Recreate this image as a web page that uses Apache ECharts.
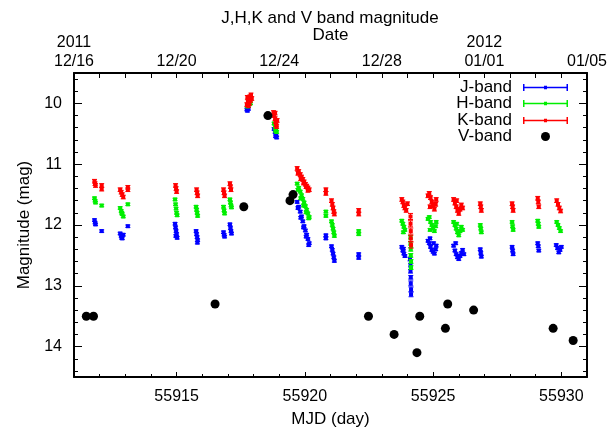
<!DOCTYPE html>
<html>
<head>
<meta charset="utf-8">
<script src="https://cdn.jsdelivr.net/npm/echarts@6/dist/echarts.min.js"></script>
<style>
  html, body { margin: 0; padding: 0; background: #fff; }
  #chart { width: 609px; height: 431px; }
</style>
</head>
<body>
<div id="chart"></div>
<script>
// [MJD, magnitude, error]
var jBand = [
  [55911.80,11.92,0.02],[55911.82,11.96,0.02],[55911.84,11.99,0.02],
  [55912.08,12.10,0.02],
  [55912.80,12.14,0.02],[55912.84,12.18,0.02],[55912.88,12.22,0.02],[55912.92,12.16,0.02],[55912.86,12.21,0.02],
  [55913.10,12.02,0.02],
  [55914.94,11.98,0.02],[55914.96,12.04,0.02],[55914.98,12.10,0.02],[55915.00,12.15,0.02],[55915.02,12.21,0.02],[55914.97,12.18,0.02],
  [55915.76,12.10,0.02],[55915.78,12.15,0.02],[55915.80,12.20,0.02],[55915.82,12.25,0.02],[55915.81,12.29,0.02],
  [55916.83,12.12,0.02],[55916.85,12.16,0.02],[55916.87,12.19,0.02],
  [55917.08,11.99,0.02],[55917.10,12.05,0.02],[55917.12,12.10,0.02],[55917.14,12.14,0.02],
  [55917.76,10.12,0.02],[55917.80,10.09,0.02],[55917.74,10.10,0.02],
  [55918.80,10.42,0.02],[55918.84,10.47,0.02],[55918.88,10.52,0.02],[55918.90,10.56,0.02],[55918.86,10.54,0.02],
  [55919.70,11.62,0.02],[55919.76,11.70,0.02],[55919.82,11.78,0.02],[55919.87,11.86,0.02],[55919.92,11.94,0.02],
  [55919.97,12.02,0.02],[55920.02,12.09,0.02],[55920.07,12.16,0.02],[55920.12,12.23,0.02],[55920.17,12.30,0.02],
  [55919.73,11.72,0.02],[55919.84,11.88,0.02],[55919.95,12.04,0.02],[55920.05,12.19,0.02],[55920.15,12.33,0.02],
  [55920.82,12.17,0.02],[55920.82,12.22,0.02],
  [55921.04,12.35,0.02],[55921.07,12.41,0.02],[55921.10,12.47,0.02],[55921.13,12.53,0.02],[55921.15,12.59,0.02],
  [55922.10,12.48,0.02],[55922.10,12.54,0.02],
  [55923.78,12.36,0.02],[55923.82,12.42,0.02],[55923.86,12.47,0.02],[55923.90,12.51,0.02],[55923.84,12.39,0.02],
  [55924.10,12.56,0.03],[55924.12,12.66,0.03],[55924.12,12.76,0.03],[55924.13,12.86,0.03],[55924.13,12.96,0.04],
  [55924.14,13.06,0.04],[55924.14,13.14,0.04],
  [55924.80,12.26,0.02],[55924.85,12.30,0.02],[55924.90,12.36,0.02],[55924.95,12.41,0.02],[55925.00,12.44,0.02],
  [55925.05,12.47,0.02],[55925.10,12.40,0.02],[55924.88,12.22,0.02],[55925.02,12.30,0.02],[55925.12,12.34,0.02],
  [55925.80,12.34,0.02],[55925.85,12.42,0.02],[55925.90,12.48,0.02],[55925.95,12.53,0.02],[55926.00,12.56,0.02],
  [55926.05,12.51,0.02],[55926.10,12.46,0.02],[55925.88,12.30,0.02],[55926.15,12.41,0.02],[55926.20,12.48,0.02],
  [55926.84,12.40,0.02],[55926.86,12.46,0.02],[55926.88,12.52,0.02],
  [55928.08,12.36,0.02],[55928.10,12.42,0.02],[55928.12,12.48,0.02],
  [55929.08,12.30,0.02],[55929.10,12.35,0.02],[55929.12,12.42,0.02],
  [55929.80,12.33,0.02],[55929.85,12.38,0.02],[55929.90,12.45,0.02],[55929.95,12.41,0.02],[55930.00,12.36,0.02]
];

var hBand = [
  [55911.80,11.56,0.02],[55911.82,11.60,0.02],[55911.84,11.63,0.02],
  [55912.08,11.68,0.02],
  [55912.80,11.72,0.02],[55912.84,11.77,0.02],[55912.88,11.82,0.02],[55912.92,11.86,0.02],[55912.86,11.80,0.02],
  [55913.10,11.66,0.02],
  [55914.94,11.58,0.02],[55914.96,11.66,0.02],[55914.98,11.73,0.02],[55915.00,11.80,0.02],[55915.02,11.84,0.02],
  [55915.76,11.70,0.02],[55915.78,11.75,0.02],[55915.80,11.80,0.02],[55915.82,11.85,0.02],
  [55916.83,11.70,0.02],[55916.85,11.76,0.02],[55916.87,11.81,0.02],
  [55917.08,11.58,0.02],[55917.10,11.63,0.02],[55917.12,11.68,0.02],[55917.14,11.71,0.02],
  [55917.76,10.05,0.02],[55917.82,10.02,0.02],[55917.88,10.00,0.02],
  [55918.80,10.33,0.02],[55918.84,10.38,0.02],[55918.88,10.43,0.02],[55918.90,10.47,0.02],[55918.86,10.45,0.02],
  [55919.70,11.32,0.02],[55919.76,11.39,0.02],[55919.82,11.45,0.02],[55919.87,11.51,0.02],[55919.92,11.57,0.02],
  [55919.97,11.63,0.02],[55920.02,11.69,0.02],[55920.07,11.75,0.02],[55920.12,11.81,0.02],[55920.17,11.87,0.02],
  [55919.73,11.42,0.02],[55919.84,11.56,0.02],[55919.95,11.68,0.02],[55920.05,11.79,0.02],[55920.15,11.89,0.02],
  [55920.82,11.78,0.02],[55920.82,11.85,0.02],
  [55921.04,11.94,0.02],[55921.07,12.00,0.02],[55921.10,12.06,0.02],[55921.13,12.12,0.02],[55921.15,12.18,0.02],
  [55922.10,12.10,0.02],[55922.10,12.15,0.02],
  [55923.78,11.93,0.02],[55923.82,11.98,0.02],[55923.86,12.03,0.02],[55923.90,12.08,0.02],[55923.84,12.12,0.02],
  [55924.12,12.20,0.03],[55924.12,12.30,0.03],[55924.13,12.40,0.03],[55924.13,12.50,0.03],[55924.14,12.60,0.03],
  [55924.14,12.70,0.03],
  [55924.80,11.90,0.02],[55924.85,11.87,0.02],[55924.90,11.95,0.02],[55924.95,12.00,0.02],[55925.00,12.05,0.02],
  [55925.05,12.10,0.02],[55925.10,12.02,0.02],[55924.88,12.08,0.02],[55925.12,11.95,0.02],
  [55925.80,11.95,0.02],[55925.85,12.00,0.02],[55925.90,12.06,0.02],[55925.95,12.12,0.02],[55926.00,12.17,0.02],
  [55926.05,12.10,0.02],[55926.10,12.03,0.02],[55926.15,12.08,0.02],[55925.92,11.98,0.02],
  [55926.84,12.00,0.02],[55926.86,12.06,0.02],[55926.88,12.12,0.02],
  [55928.08,11.95,0.02],[55928.10,12.02,0.02],[55928.12,12.08,0.02],
  [55929.08,11.93,0.02],[55929.10,11.98,0.02],[55929.12,12.03,0.02],
  [55929.82,11.95,0.02],[55929.87,12.00,0.02],[55929.92,12.05,0.02],[55929.97,12.10,0.02]
];

var kBand = [
  [55911.80,11.28,0.03],[55911.82,11.32,0.03],[55911.84,11.35,0.03],
  [55912.08,11.35,0.03],[55912.08,11.41,0.03],
  [55912.80,11.42,0.03],[55912.84,11.46,0.03],[55912.88,11.50,0.03],[55912.92,11.54,0.03],
  [55913.10,11.38,0.03],[55913.10,11.42,0.03],
  [55914.96,11.35,0.03],[55914.98,11.40,0.03],[55915.00,11.45,0.03],
  [55915.78,11.42,0.03],[55915.80,11.47,0.03],[55915.82,11.52,0.03],
  [55916.83,11.42,0.03],[55916.85,11.47,0.03],[55916.87,11.52,0.03],
  [55917.08,11.32,0.03],[55917.10,11.37,0.03],[55917.12,11.42,0.03],
  [55917.74,10.02,0.03],[55917.78,9.97,0.03],[55917.82,9.93,0.03],[55917.86,9.89,0.03],[55917.90,9.86,0.03],
  [55917.80,10.04,0.03],[55917.88,9.95,0.03],[55917.76,9.90,0.03],[55917.84,10.00,0.03],[55917.93,9.92,0.03],
  [55918.78,10.15,0.03],[55918.80,10.20,0.03],[55918.84,10.25,0.03],[55918.86,10.30,0.03],[55918.88,10.35,0.03],
  [55918.90,10.38,0.03],[55918.84,10.16,0.03],[55918.92,10.28,0.03],
  [55919.70,11.07,0.03],[55919.76,11.12,0.03],[55919.82,11.17,0.03],[55919.87,11.21,0.03],[55919.92,11.25,0.03],
  [55919.97,11.29,0.03],[55920.02,11.33,0.03],[55920.07,11.36,0.03],[55920.12,11.39,0.03],[55920.17,11.42,0.03],
  [55919.73,11.15,0.03],[55919.84,11.24,0.03],[55919.95,11.31,0.03],[55920.05,11.37,0.03],[55920.12,11.43,0.03],
  [55920.82,11.42,0.03],[55920.82,11.48,0.03],
  [55921.04,11.60,0.03],[55921.07,11.66,0.03],[55921.10,11.72,0.03],[55921.13,11.78,0.03],[55921.15,11.82,0.03],
  [55922.10,11.76,0.03],[55922.10,11.82,0.03],
  [55923.78,11.58,0.03],[55923.82,11.62,0.03],[55923.86,11.68,0.03],[55923.90,11.72,0.03],[55923.95,11.76,0.03],
  [55924.00,11.65,0.03],
  [55924.12,11.86,0.05],[55924.12,11.98,0.05],[55924.13,12.10,0.05],[55924.13,12.22,0.05],[55924.14,12.33,0.05],
  [55924.80,11.52,0.03],[55924.85,11.48,0.03],[55924.90,11.55,0.03],[55924.95,11.62,0.03],[55925.00,11.68,0.03],
  [55925.05,11.74,0.03],[55925.10,11.66,0.03],[55924.88,11.70,0.03],[55925.12,11.58,0.03],
  [55925.80,11.58,0.03],[55925.85,11.64,0.03],[55925.90,11.70,0.03],[55925.95,11.76,0.03],[55926.00,11.81,0.03],
  [55926.05,11.74,0.03],[55926.10,11.67,0.03],[55926.15,11.72,0.03],[55925.92,11.60,0.03],
  [55926.84,11.65,0.03],[55926.86,11.70,0.03],[55926.88,11.76,0.03],
  [55928.08,11.65,0.03],[55928.10,11.70,0.03],[55928.12,11.76,0.03],
  [55929.08,11.56,0.03],[55929.10,11.62,0.03],[55929.12,11.70,0.03],
  [55929.82,11.60,0.03],[55929.87,11.66,0.03],[55929.92,11.72,0.03],[55929.97,11.77,0.03]
];

// [MJD, magnitude]
var vBand = [
  [55911.48,13.5],[55911.76,13.5],[55916.50,13.3],[55917.62,11.7],[55918.56,10.2],
  [55919.42,11.6],[55919.54,11.5],[55922.48,13.5],[55923.48,13.8],[55924.37,14.1],
  [55924.48,13.5],[55925.48,13.7],[55925.57,13.3],[55926.58,13.4],[55929.68,13.7],[55930.46,13.9]
];

var mjdLabels = [55915, 55920, 55925, 55930];
var dayTicks = [55912,55913,55914,55915,55916,55917,55918,55919,55920,55921,
                55922,55923,55924,55925,55926,55927,55928,55929,55930];
var dateTickValues = [55911, 55915, 55919, 55923, 55927, 55931];
var dateLabels = ['2011\n12/16', '12/20', '12/24', '12/28', '2012\n01/01', '01/05'];
var magLabels = [10, 11, 12, 13, 14];
var magMinor = [9.6,9.8,10.2,10.4,10.6,10.8,11.2,11.4,11.6,11.8,12.2,12.4,12.6,12.8,
                13.2,13.4,13.6,13.8,14.2,14.4];

var FONT = '"Liberation Sans", Arial, sans-serif';
var X_MIN = 55911, X_MAX = 55931, Y_MIN = 9.5, Y_MAX = 14.5;
var J_COLOR = '#0000ff', H_COLOR = '#00ee00', K_COLOR = '#ff0000';

function errorBar(params, api) {
  var x = api.value(0), y = api.value(1), e = api.value(2);
  var p = api.coord([x, y]);
  var t = api.coord([x, y - e])[1];
  var b = api.coord([x, y + e])[1];
  var c = api.visual('color');
  var ln = { stroke: c, lineWidth: 1 };
  return {
    type: 'group',
    children: [
      { type: 'line', shape: { x1: p[0], y1: t, x2: p[0], y2: b }, style: ln },
      { type: 'line', shape: { x1: p[0] - 2.5, y1: t, x2: p[0] + 2.5, y2: t }, style: ln },
      { type: 'line', shape: { x1: p[0] - 2.5, y1: b, x2: p[0] + 2.5, y2: b }, style: ln },
      { type: 'rect', shape: { x: p[0] - 2, y: p[1] - 2, width: 4, height: 4 }, style: { fill: c } }
    ]
  };
}

function bandSeries(name, data, color) {
  return {
    name: name, type: 'custom', renderItem: errorBar, data: data,
    encode: { x: 0, y: 1 }, clip: true,
    itemStyle: { color: color, borderColor: color, borderWidth: 0 }
  };
}

// error bar sample: horizontal bar, end caps and a centre dot
var barIcon = 'path://M0,3.2H45V4.8H0Z M0,0.5H1.5V7.5H0Z M43.5,0.5H45V7.5H43.5Z M21,2.2H24V5.8H21Z';

function legendRow(name, top, icon, color) {
  return {
    data: [{ name: name, icon: icon,
             itemStyle: { color: color, borderColor: color, borderWidth: 0, opacity: 1 } }],
    right: 41, top: top, orient: 'vertical', align: 'right',
    itemWidth: 45, itemHeight: 8, selectedMode: false, padding: 0,
    itemStyle: { borderWidth: 0 },
    textStyle: { fontSize: 17, fontFamily: FONT, color: '#000', lineHeight: 16, padding: [0, 6, 0, 0] }
  };
}

var vLegend = legendRow('V-band', 128, 'circle', '#000');
vLegend.right = 59;
vLegend.itemWidth = 9;
vLegend.itemHeight = 9;
vLegend.textStyle.padding = [0, 24, 0, 0];

function xBase(pos) {
  return {
    type: 'value', position: pos, min: X_MIN, max: X_MAX,
    splitLine: { show: false },
    axisLine: { show: true, onZero: false, lineStyle: { color: '#000', width: 2 } }
  };
}

function yBase(pos) {
  return {
    type: 'value', position: pos, min: Y_MIN, max: Y_MAX, inverse: true,
    splitLine: { show: false },
    axisLine: { show: true, onZero: false, lineStyle: { color: '#000', width: 2 } }
  };
}

var xBottom = xBase('bottom');
xBottom.axisLabel = {
  customValues: mjdLabels, fontSize: 16, fontFamily: FONT, color: '#000', margin: 12,
  formatter: function (v) { return String(Math.round(v)); }
};
xBottom.axisTick = { customValues: mjdLabels, inside: true, length: 5, lineStyle: { color: '#000' } };
xBottom.name = 'MJD (day)';
xBottom.nameLocation = 'middle';
xBottom.nameGap = 34;
xBottom.nameMoveOverlap = false;
xBottom.nameTextStyle = { fontSize: 17, fontFamily: FONT, color: '#000' };

var xBottomMinor = xBase('bottom');
xBottomMinor.axisLine.show = false;
xBottomMinor.axisLabel = { show: false };
xBottomMinor.axisTick = { customValues: dayTicks, inside: true, length: 3, lineStyle: { color: '#000' } };

var xTop = xBase('top');
xTop.axisLabel = {
  customValues: dateTickValues, fontSize: 16, fontFamily: FONT, color: '#000',
  margin: 2, lineHeight: 19, showMinLabel: true, showMaxLabel: true,
  formatter: function (v) { return dateLabels[dateTickValues.indexOf(Math.round(v))]; }
};
xTop.axisTick = { customValues: dayTicks, inside: true, length: 5, lineStyle: { color: '#000' } };
xTop.name = 'Date';
xTop.nameLocation = 'middle';
xTop.nameGap = 29;
xTop.nameMoveOverlap = false;
xTop.nameTextStyle = { fontSize: 17, fontFamily: FONT, color: '#000' };

var yLeft = yBase('left');
yLeft.axisLabel = { customValues: magLabels, fontSize: 16, fontFamily: FONT, color: '#000', margin: 12 };
yLeft.axisTick = { customValues: magLabels, inside: true, length: 8, lineStyle: { color: '#000' } };
yLeft.name = 'Magnitude (mag)';
yLeft.nameLocation = 'middle';
yLeft.nameGap = 41;
yLeft.nameMoveOverlap = false;
yLeft.nameTextStyle = { fontSize: 17, fontFamily: FONT, color: '#000' };

var yLeftMinor = yBase('left');
yLeftMinor.axisLine.show = false;
yLeftMinor.axisLabel = { show: false };
yLeftMinor.axisTick = { customValues: magMinor, inside: true, length: 4, lineStyle: { color: '#000' } };

var yRight = yBase('right');
yRight.axisLabel = { show: false };
yRight.axisTick = { customValues: magLabels, inside: true, length: 8, lineStyle: { color: '#000' } };

var yRightMinor = yBase('right');
yRightMinor.axisLine.show = false;
yRightMinor.axisLabel = { show: false };
yRightMinor.axisTick = { customValues: magMinor, inside: true, length: 4, lineStyle: { color: '#000' } };

var chart = echarts.init(document.getElementById('chart'));
chart.setOption({
  animation: false,
  backgroundColor: '#fff',
  title: {
    text: 'J,H,K and V band magnitude', left: 330, top: 10, textAlign: 'center', padding: 0,
    textStyle: { fontSize: 17, fontWeight: 'normal', fontFamily: FONT, color: '#000' }
  },
  grid: { left: 74, right: 22, top: 73, bottom: 54, outerBoundsMode: 'none' },
  legend: [
    legendRow('J-band', 79, barIcon, J_COLOR),
    legendRow('H-band', 95, barIcon, H_COLOR),
    legendRow('K-band', 112, barIcon, K_COLOR),
    vLegend
  ],
  xAxis: [xBottom, xBottomMinor, xTop],
  yAxis: [yLeft, yLeftMinor, yRight, yRightMinor],
  series: [
    bandSeries('J-band', jBand, J_COLOR),
    bandSeries('H-band', hBand, H_COLOR),
    bandSeries('K-band', kBand, K_COLOR),
    {
      name: 'V-band', type: 'scatter', data: vBand, symbol: 'circle', symbolSize: 9,
      itemStyle: { color: '#000', opacity: 1 }, z: 5
    }
  ]
});
</script>
</body>
</html>
